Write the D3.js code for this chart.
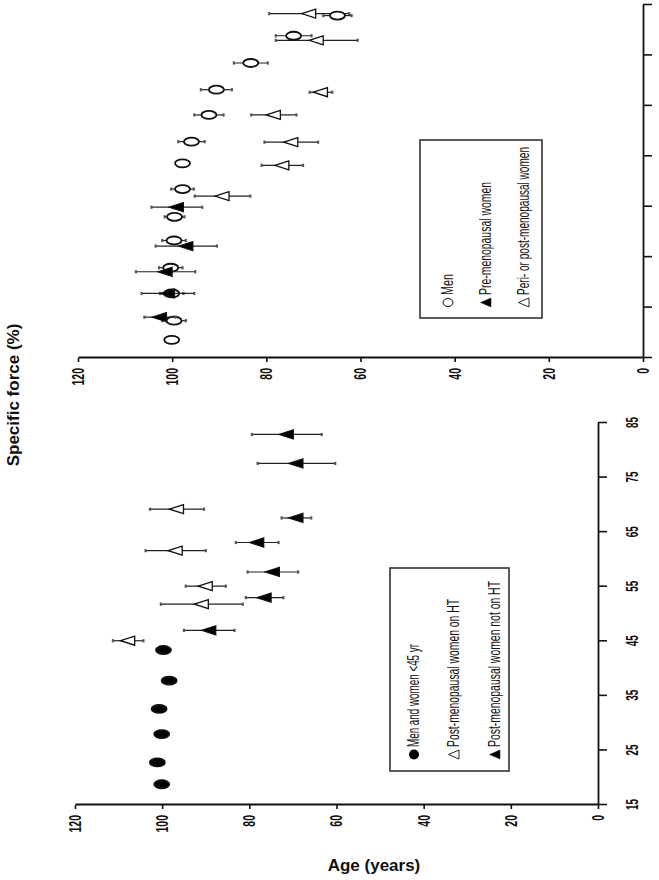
<!DOCTYPE html>
<html>
<head>
<meta charset="utf-8">
<script src="https://cdn.jsdelivr.net/npm/d3@7"></script>
<style>
  body { margin: 0; background: #fff; }
  svg { display: block; }
  .axis path, .axis line { stroke: #111; }
  .axis path { stroke-width: 1.8; }
  .axis line { stroke-width: 1.6; }
  .axis text { font-family: "Liberation Sans", Arial, sans-serif; font-weight: bold; fill: #111; }
  .leg text { font-family: "Liberation Sans", Arial, sans-serif; fill: #111; }
</style>
</head>
<body>
<div id="chart"></div>
<script>
// ---------------- DATA ----------------
var forceTicks = [0, 20, 40, 60, 80, 100, 120];
var ageTicks = [15, 25, 35, 45, 55, 65, 75, 85];

// upper panel
var menAge   = [18.6, 22.4, 27.8, 32.9, 38.3, 43.0, 48.5, 53.6, 57.9, 63.2, 68.2, 73.5, 78.9, 82.9];
var menForce = [100.1, 99.6, 100.1, 100.3, 99.6, 99.5, 97.8, 97.8, 95.9, 92.2, 90.6, 83.3, 74.2, 64.9];
var menErr   = [0.8, 2.5, 2.5, 2.5, 2.5, 2.1, 2.4, 1.2, 2.8, 3.1, 3.3, 3.6, 3.8, 3.0];

var preAge   = [23.1, 27.8, 32.1, 37.2, 44.9];
var preForce = [102.6, 100.9, 101.4, 97.0, 99.0];
var preErr   = [3.3, 5.6, 6.3, 6.5, 5.4];

var periAge   = [47.1, 53.2, 57.8, 63.2, 67.7, 78.0, 83.3];
var periForce = [89.3, 76.6, 74.7, 78.4, 68.4, 69.3, 70.9];
var periErr   = [5.9, 4.4, 5.7, 4.8, 2.4, 8.7, 8.5];

// lower panel
var youngAge   = [18.8, 22.8, 28.0, 32.6, 37.8, 43.4];
var youngForce = [100.1, 101.1, 100.1, 100.7, 98.4, 99.7];
var youngErr   = [0.5, 0.5, 0.8, 1.0, 1.0, 0.5];

var htAge   = [45.1, 51.8, 55.1, 61.6, 69.2];
var htForce = [107.8, 90.9, 90.0, 96.9, 96.6];
var htErr   = [3.5, 9.4, 4.6, 6.9, 6.2];

var noHtAge   = [47.0, 53.0, 57.7, 63.1, 67.6, 77.6, 82.9];
var noHtForce = [89.2, 76.5, 74.6, 78.2, 69.2, 69.2, 71.4];
var noHtErr   = [5.8, 4.3, 5.8, 4.9, 3.4, 8.9, 8.0];

var upperLegend = ["Men", "Pre-menopausal women", "Peri- or post-menopausal women"];
var upperSymbols = ["circle-open", "tri-filled", "tri-open"];
var lowerLegend = ["Men and women <45 yr", "Post-menopausal women on HT", "Post-menopausal women not on HT"];
var lowerSymbols = ["circle-filled", "tri-open", "tri-filled"];

// ---------------- CANVAS ----------------
var w = 659, h = 880;
var svg = d3.select("#chart").append("svg")
  .attr("width", w)
  .attr("height", h);

var squash = 0.62; // text in the figure is narrow

function zip(ages, forces, errs) {
  return ages.map(function(a, i) { return {age: a, f: forces[i], e: errs[i]}; });
}

function drawPanel(p) {
  // panel drawn as a normal age/force chart, then turned a quarter turn
  var g = svg.append("g")
    .attr("transform", "translate(" + p.left + "," + p.base + ") rotate(-90)");

  var x = d3.scaleLinear().domain([15, 85]).range([0, p.ageLen]);
  var y = d3.scaleLinear().domain([0, 120]).range([p.forceLen, 0]);

  var yAxis = d3.axisLeft(y).tickValues(forceTicks).tickSize(4).tickPadding(6).tickSizeOuter(0);
  var xAxis = d3.axisBottom(x).tickValues(ageTicks).tickSize(9).tickPadding(20).tickSizeOuter(0);
  if (!p.ageLabels) xAxis.tickFormat("");

  var ya = g.append("g").attr("class", "axis").call(yAxis);
  ya.selectAll("text")
    .style("font-size", "17px")
    .attr("x", -10 / squash)
    .attr("transform", "scale(" + squash + ",1)");

  var xa = g.append("g").attr("class", "axis")
    .attr("transform", "translate(0," + p.forceLen + ")")
    .call(xAxis);
  xa.selectAll("text")
    .style("font-size", "16px")
    .attr("transform", "scale(" + squash + ",1)");

  p.series.forEach(function(s) {
    var pts = g.append("g");
    var d = s.data;
    // error bars
    pts.selectAll(".bar").data(d).enter().append("line")
      .attr("x1", function(v) { return x(v.age); })
      .attr("x2", function(v) { return x(v.age); })
      .attr("y1", function(v) { return y(v.f - v.e); })
      .attr("y2", function(v) { return y(v.f + v.e); })
      .attr("stroke", "#222").attr("stroke-width", 1.2);
    [-1, 1].forEach(function(sg) {
      pts.selectAll(".cap" + sg).data(d).enter().append("line")
        .attr("x1", function(v) { return x(v.age) - 1.6; })
        .attr("x2", function(v) { return x(v.age) + 1.6; })
        .attr("y1", function(v) { return y(v.f + sg * v.e); })
        .attr("y2", function(v) { return y(v.f + sg * v.e); })
        .attr("stroke", "#555").attr("stroke-width", 2.2);
    });
    // markers
    if (s.shape === "circle") {
      pts.selectAll(".m").data(d).enter().append("ellipse")
        .attr("cx", function(v) { return x(v.age); })
        .attr("cy", function(v) { return y(v.f); })
        .attr("rx", 4)
        .attr("ry", 7.5)
        .attr("fill", s.fill)
        .attr("stroke", "#111")
        .attr("stroke-width", 1.8);
    } else {
      pts.selectAll(".m").data(d).enter().append("path")
        .attr("d", "M0,-7.5L4.5,6.5L-4.5,6.5Z")
        .attr("transform", function(v) { return "translate(" + x(v.age) + "," + y(v.f) + ")"; })
        .attr("fill", s.fill)
        .attr("stroke", "#111")
        .attr("stroke-width", 1.3);
    }
  });
}

drawPanel({
  left: 78, base: 358, ageLen: 353, forceLen: 565, ageLabels: false,
  series: [
    {shape: "tri", fill: "#fff", data: zip(periAge, periForce, periErr)},
    {shape: "circle", fill: "#fff", data: zip(menAge, menForce, menErr)},
    {shape: "tri", fill: "#000", data: zip(preAge, preForce, preErr)}
  ]
});

drawPanel({
  left: 75, base: 805, ageLen: 382, forceLen: 523, ageLabels: true,
  series: [
    {shape: "circle", fill: "#000", data: zip(youngAge, youngForce, youngErr)},
    {shape: "tri", fill: "#fff", data: zip(htAge, htForce, htErr)},
    {shape: "tri", fill: "#000", data: zip(noHtAge, noHtForce, noHtErr)}
  ]
});

// ---------------- LEGENDS ----------------
function drawLegend(box, lines, symbols, xs, lens, yStart) {
  var lg = svg.append("g").attr("class", "leg");
  lg.append("rect")
    .attr("x", box[0]).attr("y", box[1])
    .attr("width", box[2]).attr("height", box[3])
    .attr("fill", "#fff").attr("stroke", "#333").attr("stroke-width", 1.6);
  lines.forEach(function(t, i) {
    // each line is written in its own turned frame
    var row = lg.append("g")
      .attr("transform", "translate(" + xs[i] + "," + yStart + ") rotate(-90)");
    var sym = symbols[i];
    if (sym.indexOf("circle") === 0) {
      row.append("ellipse")
        .attr("cx", 4.5).attr("cy", -5)
        .attr("rx", sym === "circle-open" ? 4 : 5).attr("ry", 5)
        .attr("fill", sym === "circle-open" ? "#fff" : "#000")
        .attr("stroke", "#111").attr("stroke-width", sym === "circle-open" ? 1 : 0);
    } else {
      row.append("path")
        .attr("d", "M4.5,-10.5L9,0L0,0Z")
        .attr("fill", sym === "tri-open" ? "#fff" : "#000")
        .attr("stroke", "#111").attr("stroke-width", sym === "tri-open" ? 0.9 : 0.5);
    }
    row.append("text")
      .attr("x", 12)
      .attr("textLength", lens[i] - 12)
      .attr("lengthAdjust", "spacingAndGlyphs")
      .style("font-size", "16px")
      .text(t);
  });
}

drawLegend([420, 140, 122, 178], upperLegend, upperSymbols, [453, 491, 529], [33, 125, 160], 307);
drawLegend([390, 568, 119, 203], lowerLegend, lowerSymbols, [419, 459, 500], [115, 160, 178], 759);

// ---------------- AXIS TITLES ----------------
svg.append("text")
  .attr("transform", "translate(19,395) rotate(-90)")
  .attr("text-anchor", "middle")
  .style("font-family", "Liberation Sans, Arial, sans-serif")
  .style("font-size", "17px")
  .style("font-weight", "bold")
  .style("fill", "#111")
  .text("Specific force (%)");

svg.append("text")
  .attr("x", 374)
  .attr("y", 871)
  .attr("text-anchor", "middle")
  .style("font-family", "Liberation Sans, Arial, sans-serif")
  .style("font-size", "17px")
  .style("font-weight", "bold")
  .style("fill", "#111")
  .text("Age (years)");
</script>
</body>
</html>
